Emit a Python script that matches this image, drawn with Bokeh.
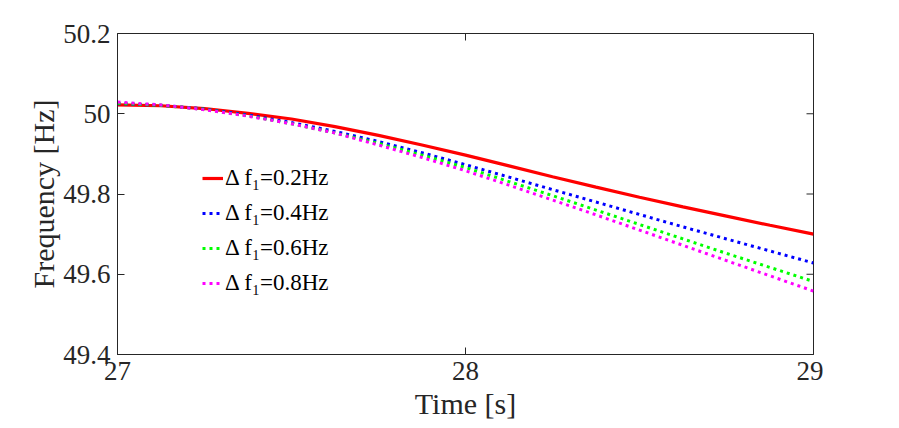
import math
from bokeh.plotting import figure
from bokeh.models import FixedTicker, Legend, LegendItem, Range1d
from bokeh.embed import file_html
from bokeh.resources import INLINE

# ---- data ----
time_s = [27.0, 27.125, 27.25, 27.375, 27.5, 27.625, 27.75, 27.875, 28.0,
          28.125, 28.25, 28.375, 28.5, 28.625, 28.75, 28.875, 29.0]
f_02 = [50.022, 50.020, 50.013, 50.001, 49.987, 49.968, 49.946, 49.922, 49.897,
        49.870, 49.843, 49.817, 49.792, 49.768, 49.745, 49.722, 49.700]
f_04 = [50.025, 50.021, 50.012, 49.997, 49.978, 49.956, 49.931, 49.903, 49.873,
        49.842, 49.811, 49.780, 49.749, 49.718, 49.688, 49.658, 49.628]
f_06 = [50.026, 50.021, 50.011, 49.995, 49.975, 49.952, 49.926, 49.897, 49.866,
        49.831, 49.796, 49.760, 49.724, 49.688, 49.652, 49.617, 49.582]
f_08 = [50.029, 50.022, 50.010, 49.994, 49.975, 49.952, 49.922, 49.891, 49.858,
        49.822, 49.785, 49.748, 49.710, 49.672, 49.634, 49.596, 49.558]
series_labels = ["Δ f₁=0.2Hz", "Δ f₁=0.4Hz", "Δ f₁=0.6Hz", "Δ f₁=0.8Hz"]
x_ticks = [27, 28, 29]
x_tick_labels = ["27", "28", "29"]
y_ticks = [49.4, 49.6, 49.8, 50.0, 50.2]
y_tick_labels = ["49.4", "49.6", "49.8", "50", "50.2"]

FONT = "Liberation Serif"
AX = "#262626"

p = figure(width=883, height=412, output_backend="svg", toolbar_location=None,
           x_range=Range1d(x_ticks[0], x_ticks[-1]), y_range=Range1d(y_ticks[0], y_ticks[-1]),
           frame_width=696, frame_height=321,
           min_border_left=117, min_border_top=33, min_border_right=10, min_border_bottom=10,
           x_axis_label="Time [s]", y_axis_label="Frequency [Hz]")
p.grid.visible = False
p.outline_line_color = AX
p.outline_line_width = 1
p.background_fill_color = "white"
p.border_fill_color = "white"

p.xaxis.ticker = FixedTicker(ticks=x_ticks)
p.xaxis.major_label_overrides = {t: l for t, l in zip(x_ticks, x_tick_labels)}
p.yaxis.ticker = FixedTicker(ticks=y_ticks)
p.yaxis.major_label_overrides = {t: l for t, l in zip(y_ticks, y_tick_labels)}

for ax in [p.xaxis[0], p.yaxis[0]]:
    ax.axis_line_color = AX
    ax.major_tick_line_color = AX
    ax.major_tick_in = 7
    ax.major_tick_out = 0
    ax.minor_tick_line_color = None
    ax.major_label_text_font = FONT
    ax.major_label_text_font_size = "27px"
    ax.major_label_text_color = AX
    ax.axis_label_text_font = FONT
    ax.axis_label_text_font_size = "30px"
    ax.axis_label_text_font_style = "normal"
    ax.axis_label_text_color = AX
p.xaxis.major_label_standoff = 7
p.xaxis.axis_label_standoff = 4
p.yaxis.major_label_standoff = 7
p.yaxis.axis_label_standoff = 0

# mirrored inward ticks on the top and right edges (half of each dash is clipped by the frame)
inner_x = x_ticks[1:-1]
inner_y = y_ticks[1:-1]
p.scatter(inner_x, [y_ticks[-1]] * len(inner_x), marker="dash", size=14, angle=math.pi / 2,
          line_color=AX, line_width=1)
p.scatter([x_ticks[-1]] * len(inner_y), inner_y, marker="dash", size=14,
          line_color=AX, line_width=1)

r1 = p.line(time_s, f_02, line_color="#ff0000", line_width=3.2)
r2 = p.line(time_s, f_04, line_color="#0000ff", line_width=3, line_dash="3 4")
r3 = p.line(time_s, f_06, line_color="#00ff00", line_width=3, line_dash="3 4")
r4 = p.line(time_s, f_08, line_color="#ff00ff", line_width=3, line_dash="3 4")

legend = Legend(items=[LegendItem(label=l, renderers=[r]) for l, r in
                       zip(series_labels, [r1, r2, r3, r4])],
                location=(85, 58), orientation="vertical",
                label_text_font=FONT, label_text_font_size="23px", label_text_color="black",
                glyph_width=21, glyph_height=20, label_height=26, spacing=9,
                label_standoff=2, padding=0, margin=0,
                border_line_color=None, background_fill_alpha=0)
p.add_layout(legend, "center")

open("out.html", "w").write(file_html(p, INLINE))
